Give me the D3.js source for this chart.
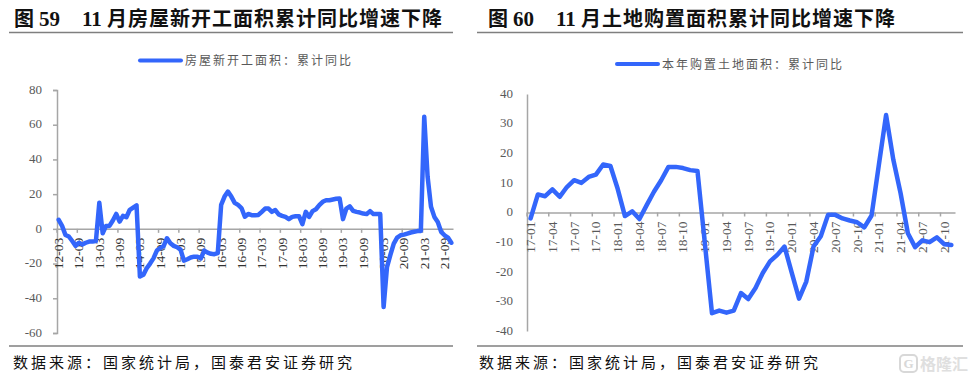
<!DOCTYPE html>
<html>
<head>
<meta charset="utf-8">
<script src="https://cdnjs.cloudflare.com/ajax/libs/d3/7.8.5/d3.min.js"></script>
<style>
  html, body { margin: 0; padding: 0; background: #fff; }
  svg { display: block; }
  text { font-family: "Liberation Serif", "Noto Sans CJK SC", serif; white-space: pre; }
</style>
</head>
<body>
<div id="graphicContainer"></div>
<script>

const startsLeft = ["12-03","12-04","12-05","12-06","12-07","12-08","12-09","12-10","12-11","12-12",
  "13-01","13-02","13-03","13-04","13-05","13-06","13-07","13-08","13-09","13-10","13-11","13-12",
  "14-01","14-02","14-03","14-04","14-05","14-06","14-07","14-08","14-09","14-10","14-11","14-12",
  "15-01","15-02","15-03","15-04","15-05","15-06","15-07","15-08","15-09","15-10","15-11","15-12",
  "16-01","16-02","16-03","16-04","16-05","16-06","16-07","16-08","16-09","16-10","16-11","16-12",
  "17-01","17-02","17-03","17-04","17-05","17-06","17-07","17-08","17-09","17-10","17-11","17-12",
  "18-01","18-02","18-03","18-04","18-05","18-06","18-07","18-08","18-09","18-10","18-11","18-12",
  "19-01","19-02","19-03","19-04","19-05","19-06","19-07","19-08","19-09","19-10","19-11","19-12",
  "20-01","20-02","20-03","20-04","20-05","20-06","20-07","20-08","20-09","20-10","20-11","20-12",
  "21-01","21-02","21-03","21-04","21-05","21-06","21-07","21-08","21-09","21-10","21-11"]

const valuesLeft = [5.2,1.7,-3.5,-4.4,-7,-9.8,-8,-9,-8,-7.3,
  -7.3,-7,15,-2.5,1.7,1.7,4.8,8.6,4.2,7.5,6.7,11,
  12.3,13.6,-27.5,-26.5,-22.7,-20,-17,-12.5,-11,-10,-5.4,-8.3,
  -9.8,-10.6,-12,-18.3,-17.5,-16.5,-16,-16,-17,-12.5,-13.7,-14.4,
  -14.6,-14,13.8,18.6,21.5,18.6,15,13.8,12,7,8.6,7.9,
  7.9,8,9.8,11.7,11.7,9.8,10.8,8.3,7.5,6.9,5.6,6.9,
  7.3,7.3,2.7,9.8,6.9,10.2,11.3,13.7,15.6,16.5,16.5,16.9,
  17.3,17.5,5.6,11.7,13,10.4,9.8,9.4,8.8,8.5,10.2,8.5,
  8.5,8.5,-45,-22,-15,-8.5,-5,-3.7,-3.3,-2.7,-2.1,-1.7,
  -1.3,-1.2,64.6,30,12.7,6.9,4,-1.7,-3.7,-5,-8]

const ticksLeft = ["12-03","12-09","13-03","13-09","14-03","14-09","15-03","15-09","16-03","16-09",
  "17-03","17-09","18-03","18-09","19-03","19-09","20-03","20-09","21-03","21-09"]

const startsRight = ["17-01","17-02","17-03","17-04","17-05","17-06","17-07","17-08","17-09","17-10","17-11","17-12",
  "18-01","18-02","18-03","18-04","18-05","18-06","18-07","18-08","18-09","18-10","18-11","18-12",
  "19-01","19-02","19-03","19-04","19-05","19-06","19-07","19-08","19-09","19-10","19-11","19-12",
  "20-01","20-02","20-03","20-04","20-05","20-06","20-07","20-08","20-09","20-10","20-11","20-12",
  "21-01","21-02","21-03","21-04","21-05","21-06","21-07","21-08","21-09","21-10","21-11"]

const valuesRight = [-2,6.1,5.5,7.8,5.3,8.6,10.9,10,12,12.8,16.2,15.7,
  8,-1.2,0.4,-2.2,2.5,7,10.9,15.4,15.4,15,14.3,14,
  -10,-34,-33.1,-33.8,-33.1,-27.2,-29.2,-25.5,-20.4,-16.5,-14.3,-11.5,
  -20.4,-29.1,-23.3,-11.5,-8,-0.8,-0.8,-2,-2.7,-3.3,-5,-1,
  16,32.9,17.8,6.5,-7,-11.7,-9.4,-10,-8.4,-10.7,-11]

const ticksRight = ["17-01","17-04","17-07","17-10","18-01","18-04","18-07","18-10","19-01","19-04",
  "19-07","19-10","20-01","20-04","20-07","20-10","21-01","21-04","21-07","21-10"]

const yTicksLeft = [80,60,40,20,0,-20,-40,-60]
const yTicksRight = [40,30,20,10,0,-10,-20,-30,-40]

const lineColor = "#3366fb"
const axisColor = "#a6a6a6"
const ruleColor = "#7f7f7f"
const labelColor = "#595959"

const sourceText = "数据来源：国家统计局，国泰君安证券研究"

const svg = d3.select("#graphicContainer")
  .append("svg")
  .attr("width", 974)
  .attr("height", 380)

function drawPanel(settings) {

  let { offset, figure, topic, legend, cats, values, ticks, yTicks, left, right, top, bottom, yDomain, yTickSize, yPad, xColor, ruleLeft, ruleRight, legendY, legendX, sourceX } = settings

  const g = svg.append("g")

  // title
  const title = g.append("text")
    .attr("y", 26)
    .attr("font-size", 20)
    .attr("font-weight", "bold")
    .attr("fill", "#111")

  title.append("tspan").attr("x", offset + 14).text("图")
  title.append("tspan").attr("x", offset + 39).attr("font-size", 21).text(figure)
  title.append("tspan").attr("x", offset + 82).attr("font-size", 21).text("11")
  title.append("tspan").attr("x", offset + 107).attr("letter-spacing", 1).text("月" + topic)

  g.append("line")
    .attr("x1", ruleLeft).attr("x2", ruleRight)
    .attr("y1", 32.5).attr("y2", 32.5)
    .attr("stroke", ruleColor).attr("stroke-width", 1.5)

  // legend
  g.append("line")
    .attr("x1", legendX).attr("x2", legendX + 41)
    .attr("y1", legendY).attr("y2", legendY)
    .attr("stroke", lineColor).attr("stroke-width", 4)
    .attr("stroke-linecap", "round")

  g.append("text")
    .attr("x", legendX + 45)
    .attr("y", legendY + 4.5)
    .attr("font-size", 12)
    .attr("letter-spacing", 2)
    .attr("fill", labelColor)
    .text(legend)

  const x = d3.scaleBand()
    .domain(cats)
    .range([left, right])

  const y = d3.scaleLinear()
    .domain(yDomain)
    .range([bottom, top])

  const yAxis = d3.axisLeft(y)
    .tickValues(yTicks)
    .tickSize(yTickSize)
    .tickPadding(yPad)
    .tickFormat(d => d)

  const yG = g.append("g")
    .attr("transform", "translate(" + left + ",0)")
    .call(yAxis)

  yG.select("path").attr("stroke", axisColor).attr("stroke-width", 1.5)
  yG.selectAll(".tick line").attr("stroke", axisColor).attr("stroke-width", 1.5)
  yG.selectAll(".tick text")
    .attr("font-size", 13)
    .attr("dy", "0.25em")
    .attr("fill", labelColor)

  const xAxis = d3.axisBottom(x)
    .tickValues(ticks)
    .tickSize(4)
    .tickSizeOuter(0)

  const xG = g.append("g")
    .attr("transform", "translate(0," + y(0) + ")")
    .call(xAxis)

  xG.select("path").attr("stroke", axisColor).attr("stroke-width", 1.5)

  // tick marks sit on the band edge, labels stay in the middle of the band
  xG.selectAll(".tick line")
    .attr("x1", -x.bandwidth() / 2)
    .attr("x2", -x.bandwidth() / 2)
    .attr("stroke", axisColor)
    .attr("stroke-width", 1.5)

  xG.selectAll(".tick text")
    .attr("transform", "rotate(-90)")
    .attr("text-anchor", "end")
    .attr("x", -9)
    .attr("y", 0)
    .attr("dy", "0.33em")
    .attr("font-size", 13.5)
    .attr("fill", xColor)

  const line = d3.line()
    .x((d, i) => x(cats[i]) + x.bandwidth() / 2)
    .y(d => y(d))

  g.append("path")
    .datum(values)
    .attr("d", line)
    .attr("fill", "none")
    .attr("stroke", lineColor)
    .attr("stroke-width", 4.5)
    .attr("stroke-linecap", "round")
    .attr("stroke-linejoin", "round")

  // source
  g.append("line")
    .attr("x1", ruleLeft).attr("x2", ruleRight)
    .attr("y1", 346).attr("y2", 346)
    .attr("stroke", ruleColor).attr("stroke-width", 1.5)

  g.append("text")
    .attr("x", sourceX)
    .attr("y", 368)
    .attr("font-size", 15)
    .attr("letter-spacing", 3)
    .attr("fill", "#111")
    .text(sourceText)

}

drawPanel({
  offset: 0,
  figure: "59",
  topic: "房屋新开工面积累计同比增速下降",
  legend: "房屋新开工面积：累计同比",
  cats: startsLeft,
  values: valuesLeft,
  ticks: ticksLeft,
  yTicks: yTicksLeft,
  left: 57,
  right: 453,
  top: 90,
  bottom: 333,
  yDomain: [-60, 80],
  yTickSize: 4,
  yPad: 11,
  xColor: "#333",
  ruleLeft: 9,
  ruleRight: 453,
  legendX: 140,
  legendY: 60.5,
  sourceX: 13
})

drawPanel({
  offset: 474,
  figure: "60",
  topic: "土地购置面积累计同比增速下降",
  legend: "本年购置土地面积：累计同比",
  cats: startsRight,
  values: valuesRight,
  ticks: ticksRight,
  yTicks: yTicksRight,
  left: 527,
  right: 955,
  top: 94,
  bottom: 331,
  yDomain: [-40, 40],
  yTickSize: 0,
  yPad: 14,
  xColor: labelColor,
  ruleLeft: 477,
  ruleRight: 963,
  legendX: 617,
  legendY: 64,
  sourceX: 479
})

// watermark in the lower right corner
const mark = svg.append("g").attr("opacity", 0.9)

mark.append("rect")
  .attr("x", 900).attr("y", 355)
  .attr("width", 17).attr("height", 17)
  .attr("rx", 4)
  .attr("fill", "none")
  .attr("stroke", "#d4d4d4")
  .attr("stroke-width", 2)

mark.append("text")
  .attr("x", 908.5)
  .attr("y", 368)
  .attr("text-anchor", "middle")
  .attr("font-size", 13)
  .attr("font-weight", "bold")
  .attr("fill", "#d4d4d4")
  .text("G")

mark.append("text")
  .attr("x", 920)
  .attr("y", 370)
  .attr("font-size", 16)
  .attr("font-weight", "bold")
  .attr("fill", "#dcdcdc")
  .text("格隆汇")

</script>
</body>
</html>
